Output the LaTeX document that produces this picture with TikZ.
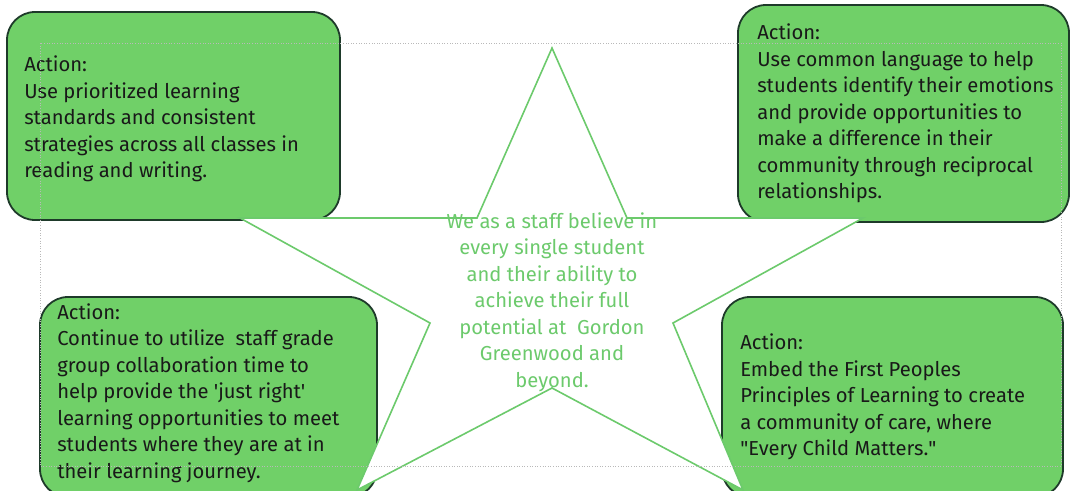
\documentclass[tikz,border=0pt]{standalone}
\usepackage{fontspec}
\setmainfont{Fira Sans}
\usetikzlibrary{positioning}
\definecolor{boxgreen}{RGB}{112,208,104}
\definecolor{boxline}{RGB}{30,58,42}
\definecolor{stargreen}{RGB}{108,202,108}
\tikzset{
  actionbox/.style={rectangle, rounded corners=28pt, draw=boxline, line width=1.8pt, fill=boxgreen,
                    inner sep=0pt},
  actiontext/.style={anchor=west, inner sep=0pt, align=left, text=black!90,
                     font=\fontsize{20.2}{26.5}\selectfont},
  startext/.style={align=center, text=stargreen, font=\fontsize{20.2}{26.5}\selectfont},
  staredge/.style={draw=stargreen, line width=1.6pt, fill=white, line join=miter},
  textframe/.style={draw=gray!55, dotted, line width=0.6pt}, % frame of the star text
}

\begin{document}
\begin{tikzpicture}[x=1pt, y=-1pt]
  \clip (0,0) rectangle (1071,490);

  \node[actionbox, minimum width=333pt, minimum height=208pt] (actRead) at (173.5,116) {};
  \node[actiontext, right=18pt of actRead.west, yshift=-3pt] (actReadText)
    {Action:\\Use prioritized learning\\standards and consistent\\strategies across all classes in\\reading and writing.};

  \node[actionbox, minimum width=331pt, minimum height=217pt] (actLang) at (903.5,113.5) {};
  \node[actiontext, right=20pt of actLang.west] (actLangText)
    {Action:\\Use common language to help\\students identify their emotions\\and provide opportunities to\\make a difference in their\\community through reciprocal\\relationships.};

  \node[actionbox, minimum width=337pt, minimum height=200pt] (actStaff) at (208.5,397) {};
  \node[actiontext, right=18pt of actStaff.west, yshift=4pt] (actStaffText)
    {Action:\\Continue to utilize~ staff grade\\group collaboration time to\\help provide the \textquotesingle just right\textquotesingle\\learning opportunities to meet\\students where they are at in\\their learning journey.};

  \node[actionbox, minimum width=341pt, minimum height=200pt] (actCare) at (892.5,397) {};
  \node[actiontext, right=19pt of actCare.west] (actCareText)
    {Action:\\Embed the First Peoples\\Principles of Learning to create\\a community of care, where\\\textquotedbl Every Child Matters.\textquotedbl};

  \draw[staredge] (552,48) -- (627,218) -- (863,218) -- (673,323) -- (743,490) -- (552,388)
    -- (357,490) -- (430,323) -- (240,218) -- (477,218) -- cycle;
  \node[startext] (belief) at (552,302)
    {We as a staff believe in\\every single student\\and their ability to\\achieve their full\\potential at~ Gordon\\Greenwood and\\beyond.};

  \draw[textframe] (40,43) rectangle (1061,466);
\end{tikzpicture}
\end{document}
